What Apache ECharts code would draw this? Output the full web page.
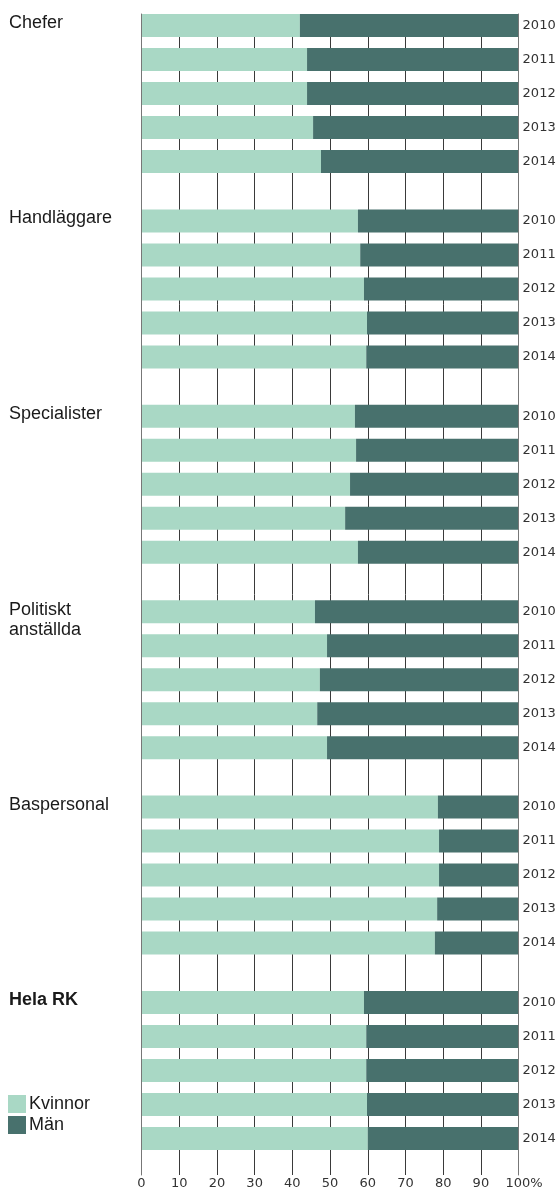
<!DOCTYPE html>
<html>
<head>
<meta charset="utf-8">
<script src="https://cdn.jsdelivr.net/npm/echarts@6/dist/echarts.min.js"></script>
<style>
  html, body { margin: 0; padding: 0; background: #fff; }
  #chart { width: 560px; height: 1190px; }
</style>
</head>
<body>
<div id="chart"></div>
<script>
// ---- data ----
const groups = ['Chefer', 'Handläggare', 'Specialister', 'Politiskt\nanställda', 'Baspersonal', 'Hela RK'];
const years = ['2010', '2011', '2012', '2013', '2014'];
const xTicks = [0, 10, 20, 30, 40, 50, 60, 70, 80, 90, 100];

const kvinnorChefer       = [42.0, 43.9, 43.9, 45.5, 47.6];
const manChefer           = [58.0, 56.1, 56.1, 54.5, 52.4];
const kvinnorHandlaggare  = [57.4, 58.0, 59.0, 59.8, 59.6];
const manHandlaggare      = [42.6, 42.0, 41.0, 40.2, 40.4];
const kvinnorSpecialister = [56.6, 56.9, 55.3, 54.0, 57.4];
const manSpecialister     = [43.4, 43.1, 44.7, 46.0, 42.6];
const kvinnorPolitiskt    = [46.0, 49.2, 47.3, 46.6, 49.2];
const manPolitiskt        = [54.0, 50.8, 52.7, 53.4, 50.8];
const kvinnorBaspersonal  = [78.6, 78.9, 78.9, 78.4, 77.8];
const manBaspersonal      = [21.4, 21.1, 21.1, 21.6, 22.2];
const kvinnorHelaRK       = [59.0, 59.6, 59.6, 59.8, 60.0];
const manHelaRK           = [41.0, 40.4, 40.4, 40.2, 40.0];

const kvinnorByGroup = [kvinnorChefer, kvinnorHandlaggare, kvinnorSpecialister, kvinnorPolitiskt, kvinnorBaspersonal, kvinnorHelaRK];
const manByGroup     = [manChefer, manHandlaggare, manSpecialister, manPolitiskt, manBaspersonal, manHelaRK];

// ---- layout / style ----
const LEFT = 141.5, RIGHT = 41.4;
const FIRST_BAR_TOP = 14, GROUP_PITCH = 195.4, BAND = 34, BAR_W = 23;
const C_K = '#a9d8c5', C_M = '#48716d';
const TXT = '#1a1a1a';
const labelFont = 'Liberation Sans, Arial, sans-serif';
const tickFont = 'DejaVu Sans, sans-serif';

const grids = [], xAxes = [], yAxes = [], series = [], graphics = [];

groups.forEach((g, i) => {
  const barTop = FIRST_BAR_TOP + GROUP_PITCH * i;
  grids.push({ left: LEFT, right: RIGHT, top: barTop - (BAND - BAR_W) / 2, height: BAND * years.length });
  xAxes.push({ gridIndex: i, type: 'value', min: 0, max: 100, show: false });
  yAxes.push({
    gridIndex: i, type: 'category', data: years, inverse: true, position: 'right',
    axisLine: { show: false }, axisTick: { show: false }, splitLine: { show: false },
    axisLabel: { margin: 4, fontSize: 13, fontFamily: tickFont, color: '#333' }
  });
  series.push({
    name: 'Kvinnor', type: 'bar', stack: 'g' + i, xAxisIndex: i, yAxisIndex: i,
    data: kvinnorByGroup[i], barWidth: BAR_W, itemStyle: { color: C_K }, z: 2
  });
  series.push({
    name: 'Män', type: 'bar', stack: 'g' + i, xAxisIndex: i, yAxisIndex: i,
    data: manByGroup[i], barWidth: BAR_W, itemStyle: { color: C_M }, z: 2
  });
  graphics.push({
    type: 'text', left: 9, top: barTop + (i === 3 ? 0 : -1),
    style: {
      text: g, font: (i === 5 ? 'bold ' : '') + '18px ' + labelFont,
      fill: TXT, lineHeight: 20
    }
  });
});

// background grid for the vertical grid lines and bottom tick labels
const BG = groups.length;
grids.push({ left: LEFT, right: RIGHT, top: FIRST_BAR_TOP, bottom: 14 });
xAxes.push({
  gridIndex: BG, type: 'value', min: xTicks[0], max: xTicks[xTicks.length - 1], interval: 10,
  axisLine: { show: false }, axisTick: { show: false },
  splitLine: { show: true, lineStyle: { color: '#3a3a3a', width: 1 } },
  axisLabel: {
    margin: 2, fontSize: 13, fontFamily: tickFont, color: '#333',
    formatter: v => v === 100 ? '{p|}100%' : String(v),
    rich: { p: { width: 11 } }
  },
  z: 0
});
yAxes.push({
  gridIndex: BG, type: 'value', min: 0, max: 1, position: 'left',
  axisLine: { show: true, onZero: false, lineStyle: { color: '#777', width: 1 } },
  axisTick: { show: false }, axisLabel: { show: false }, splitLine: { show: false }, z: 10
});
yAxes.push({
  gridIndex: BG, type: 'value', min: 0, max: 1, position: 'right',
  axisLine: { show: true, onZero: false, lineStyle: { color: '#777', width: 1 } },
  axisTick: { show: false }, axisLabel: { show: false }, splitLine: { show: false }, z: 10
});

const chart = echarts.init(document.getElementById('chart'), null, { renderer: 'canvas' });
chart.setOption({
  animation: false,
  backgroundColor: '#fff',
  grid: grids,
  xAxis: xAxes,
  yAxis: yAxes,
  series: series,
  legend: {
    orient: 'vertical', left: 8, top: 1095, itemWidth: 18, itemHeight: 18, itemGap: 3,
    icon: 'rect', selectedMode: false, padding: 0,
    data: ['Kvinnor', 'Män'],
    textStyle: { fontSize: 18, fontFamily: labelFont, color: TXT, padding: [0, 0, 0, -2] }
  },
  graphic: graphics
});
</script>
</body>
</html>
